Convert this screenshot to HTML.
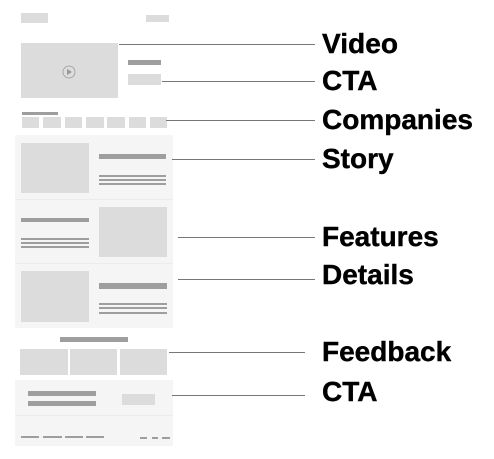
<!DOCTYPE html>
<html><head><style>body{margin:0;background:#fff}svg{display:block}</style></head><body>
<svg width="494" height="459" xmlns="http://www.w3.org/2000/svg" font-family="Liberation Sans, Arial, sans-serif">
<g fill="#dcdcdc">
<rect x="21" y="13" width="27" height="10"/>
<rect x="146" y="15" width="23" height="7"/>
<rect x="21" y="43" width="97" height="55"/>
<rect x="128" y="74" width="33" height="11"/>
<rect x="22" y="117" width="17" height="11"/><rect x="43" y="117" width="18" height="11"/><rect x="65" y="117" width="17" height="11"/><rect x="86" y="117" width="18" height="11"/><rect x="107" y="117" width="18" height="11"/><rect x="129" y="117" width="17" height="11"/><rect x="150" y="117" width="17" height="11"/>
</g>
<circle cx="69" cy="72" r="6" fill="none" stroke="#999" stroke-width="0.8"/>
<path d="M67 69 L72 72 L67 75 Z" fill="#999"/>
<g fill="#9e9e9e">
<rect x="128" y="60" width="33" height="5"/>
<rect x="22" y="112" width="36" height="3"/>
</g>
<rect x="15" y="135" width="158" height="193" fill="#f5f5f5"/>
<rect x="15" y="199" width="158" height="1" fill="#ececec"/>
<rect x="15" y="263" width="158" height="1" fill="#ececec"/>
<g fill="#dcdcdc">
<rect x="21" y="143" width="68" height="50"/>
<rect x="99" y="207" width="68" height="50"/>
<rect x="21" y="271" width="68" height="51"/>
</g>
<g fill="#9e9e9e">
<rect x="99" y="154" width="67" height="5"/>
<rect x="99" y="175" width="67" height="2"/><rect x="99" y="179" width="67" height="2"/><rect x="99" y="183" width="67" height="2"/>
<rect x="21" y="218" width="68" height="4"/>
<rect x="21" y="238" width="68" height="2"/><rect x="21" y="242" width="68" height="2"/><rect x="21" y="246" width="68" height="2"/>
<rect x="99" y="283" width="68" height="6"/>
<rect x="99" y="303" width="68" height="2"/><rect x="99" y="307" width="68" height="2"/><rect x="99" y="312" width="68" height="2"/>
<rect x="60" y="337" width="68" height="5"/>
</g>
<g fill="#dcdcdc">
<rect x="20" y="349" width="48" height="26"/><rect x="70" y="349" width="47" height="26"/><rect x="120" y="349" width="47" height="26"/>
</g>
<rect x="15" y="380" width="158" height="66" fill="#f5f5f5"/>
<rect x="15" y="415" width="158" height="1" fill="#ececec"/>
<rect x="122" y="394" width="33" height="11" fill="#dcdcdc"/>
<g fill="#9e9e9e">
<rect x="28" y="391" width="68" height="5"/><rect x="28" y="401" width="68" height="5"/>
<rect x="21" y="436" width="18" height="2"/><rect x="43" y="436" width="19" height="2"/><rect x="65" y="436" width="18" height="2"/><rect x="86" y="436" width="18" height="2"/>
<rect x="140" y="437" width="7" height="2"/><rect x="152" y="437" width="6" height="2"/><rect x="162" y="437" width="8" height="2"/>
</g>
<g stroke="#777" stroke-width="1">
<line x1="119" y1="44.5" x2="315" y2="44.5"/>
<line x1="162" y1="81.5" x2="315" y2="81.5"/>
<line x1="166" y1="120.5" x2="315" y2="120.5"/>
<line x1="172" y1="159.5" x2="315" y2="159.5"/>
<line x1="178" y1="237.5" x2="315" y2="237.5"/>
<line x1="178" y1="279.5" x2="315" y2="279.5"/>
<line x1="169" y1="352.5" x2="305" y2="352.5"/>
<line x1="172" y1="395.5" x2="305" y2="395.5"/>
</g>
<g font-size="28" font-weight="bold" fill="#000" stroke="#000" stroke-width="0.4">
<text x="322" y="53" textLength="76" lengthAdjust="spacingAndGlyphs">Video</text>
<text x="322" y="90">CTA</text>
<text x="322" y="129" textLength="151" lengthAdjust="spacingAndGlyphs">Companies</text>
<text x="322" y="168">Story</text>
<text x="322" y="246">Features</text>
<text x="322" y="284">Details</text>
<text x="322" y="361">Feedback</text>
<text x="322" y="401">CTA</text>
</g>
</svg>
</body></html>
